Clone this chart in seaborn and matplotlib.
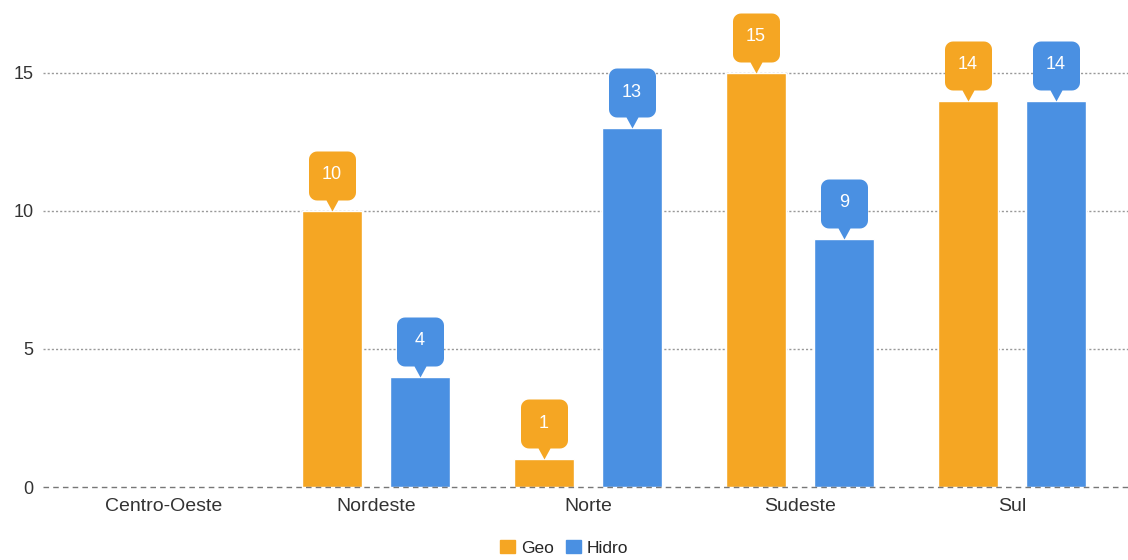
import numpy as np
import pandas as pd
import matplotlib
matplotlib.use('Agg')
import matplotlib.pyplot as plt
from matplotlib.path import Path
import seaborn as sns

# dados do grafico
regioes = ['Centro-Oeste', 'Nordeste', 'Norte', 'Sudeste', 'Sul']
geo = [None, 10, 1, 15, 14]
hidro = [None, 4, 13, 9, 14]
series = ['Geo', 'Hidro']
cores = {'Geo': '#F5A623', 'Hidro': '#4A90E2'}

rows = []
for r, g, h in zip(regioes, geo, hidro):
    if g is not None:
        rows.append({'regiao': r, 'serie': 'Geo', 'valor': g})
    if h is not None:
        rows.append({'regiao': r, 'serie': 'Hidro', 'valor': h})
df = pd.DataFrame(rows)

sns.set_theme(style='white')
plt.rcParams['font.family'] = ['Liberation Sans', 'DejaVu Sans']

fig = plt.figure(figsize=(11.28, 5.6), dpi=100)
ax = fig.add_axes([43 / 1128, 73 / 560, 1 - 43 / 1128, (487 - 10) / 560])

sns.barplot(data=df, x='regiao', y='valor', hue='serie', order=regioes,
            hue_order=series, palette=cores, width=0.83, gap=0.32,
            errorbar=None, saturation=1, ax=ax, legend=False)

ax.set_xlim(-0.571, 4.547)
ax.set_ylim(0, 17.28)
ax.set_yticks([0, 5, 10, 15])
ax.set_xlabel('')
ax.set_ylabel('')
for s in ax.spines.values():
    s.set_visible(False)
ax.tick_params(axis='both', length=0, colors='#333333')
ax.tick_params(axis='x', pad=8, labelsize=14)
ax.tick_params(axis='y', pad=7, labelsize=13)
for t in [5, 10, 15]:
    ax.axhline(t, color='#999999', lw=1, ls=(0, (1.5, 1.5)), zorder=0)
ax.axhline(0, color='#777777', lw=1, ls=(0, (4, 3)), zorder=3, clip_on=False)
ax.set_axisbelow(True)

# forma do balao: caixa arredondada com ponta, origem na ponta
def balao():
    w, y0, y1, rr = 23.5, 11, 60, 8
    pts = [(0, 0), (6, y0)]
    cantos = [((w - rr, y0 + rr), -90, 0), ((w - rr, y1 - rr), 0, 90),
              ((-w + rr, y1 - rr), 90, 180), ((-w + rr, y0 + rr), 180, 270)]
    for (cx, cy), a0, a1 in cantos:
        for a in np.linspace(np.radians(a0), np.radians(a1), 8):
            pts.append((cx + rr * np.cos(a), cy + rr * np.sin(a)))
    pts.append((-6, y0))
    pts.append((0, 0))
    return Path(pts, closed=True)

marcador = balao()
for grupo, serie in zip(ax.containers, series):
    for bar in grupo:
        h = bar.get_height()
        if np.isnan(h):
            continue
        x = bar.get_x() + bar.get_width() / 2
        ax.plot(x, h, marker=marcador, ms=86.4, color=cores[serie],
                mec='none', clip_on=False, zorder=5)
        ax.annotate(f'{int(h)}', (x, h), xytext=(0, 26), textcoords='offset points',
                    ha='center', va='center', color='white', fontsize=13,
                    zorder=6, annotation_clip=False)

handles = [plt.Rectangle((0, 0), 1, 1, color=cores[s]) for s in series]
fig.legend(handles, series, loc='lower center', bbox_to_anchor=(0.5, -0.02),
           ncol=2, frameon=False, handlelength=0.85, handleheight=0.85,
           handletextpad=0.35, columnspacing=0.7, fontsize=12.5)

fig.savefig('out.png', dpi=100)
